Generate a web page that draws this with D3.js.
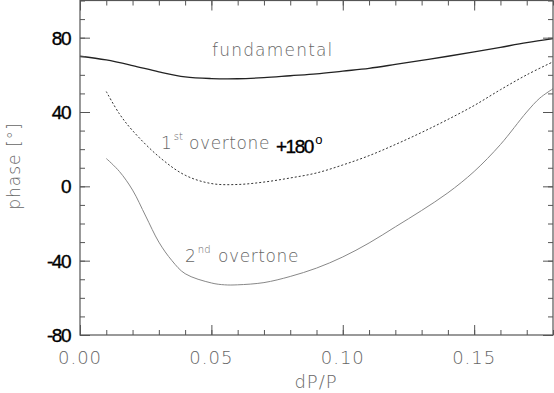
<!DOCTYPE html>
<html lang="en">
<head>
    <meta charset="UTF-8">
    <title>Phase vs dP/P</title>
    <script src="https://d3js.org/d3.v7.min.js"></script>
    <style>
        body { margin: 0; background: #fff; }
        .thin { font-family: "DejaVu Sans", sans-serif; font-weight: 200; fill: #666; }
        .bold { font-family: "Liberation Sans", Arial, sans-serif; fill: #000; stroke: #000; stroke-width: 0.35; }
    </style>
</head>
<body>
    <svg width="554" height="393"></svg>
    <script>
        // values
        const fundX = [0.00, 0.01, 0.02, 0.03, 0.04, 0.05, 0.06, 0.07, 0.08, 0.09, 0.10, 0.11, 0.12, 0.13, 0.14, 0.15, 0.16, 0.17, 0.18];
        const fundY = [70, 68, 65, 61.6, 58.9, 58.0, 57.9, 58.5, 59.5, 60.5, 62, 63.5, 65.6, 67.8, 70, 72.3, 74.8, 77.3, 79.5];

        const ov1X = [0.01, 0.015, 0.02, 0.03, 0.04, 0.05, 0.06, 0.07, 0.08, 0.09, 0.10, 0.11, 0.12, 0.13, 0.14, 0.15, 0.16, 0.17, 0.18];
        const ov1Y = [51, 39, 30, 16, 6, 1.5, 1.0, 2.3, 4.5, 7.2, 11.5, 16.5, 22.5, 29, 36, 43.5, 52, 60, 67];

        const ov2X = [0.01, 0.015, 0.02, 0.025, 0.03, 0.035, 0.04, 0.05, 0.055, 0.06, 0.07, 0.08, 0.09, 0.10, 0.11, 0.12, 0.13, 0.14, 0.15, 0.16, 0.17, 0.175, 0.18];
        const ov2Y = [15, 8, -2, -16, -30, -40, -47, -52, -53, -53, -51.8, -48.5, -44, -38, -30.5, -21.8, -13, -3.5, 8, 22.5, 40, 47.5, 52.5];

        const xTicks = [0.00, 0.05, 0.10, 0.15];
        const yTicks = [-80, -40, 0, 40, 80];

        const svg = d3.select("svg");
        const pl = 80, pr = 553, pt = 0.5, pb = 335;

        const x = d3.scaleLinear().domain([0, 0.18]).range([pl, pr]);
        const y = d3.scaleLinear().domain([-80, 100]).range([pb, pt]);

        const line = d3.line()
            .x(d => x(d[0]))
            .y(d => y(d[1]))
            .curve(d3.curveCatmullRom);

        svg.append("path")
           .datum(d3.zip(fundX, fundY))
           .attr("d", line)
           .attr("fill", "none")
           .attr("stroke", "#222")
           .attr("stroke-width", 1.3);

        svg.append("path")
           .datum(d3.zip(ov1X, ov1Y))
           .attr("d", line)
           .attr("fill", "none")
           .attr("stroke", "#333")
           .attr("stroke-width", 1)
           .attr("stroke-dasharray", "2,2");

        svg.append("path")
           .datum(d3.zip(ov2X, ov2Y))
           .attr("d", line)
           .attr("fill", "none")
           .attr("stroke", "#888")
           .attr("stroke-width", 1);

        // axes with inward ticks on all four sides
        const axisColor = "#555";
        function styleAxis(g) {
            g.select(".domain").remove();
            g.selectAll("line").attr("stroke", axisColor);
            g.selectAll("text").remove();
        }
        const minorX = d3.range(0, 0.181, 0.01);
        const minorY = d3.range(-80, 101, 10);

        svg.append("g").attr("transform", `translate(0,${pb})`)
           .call(d3.axisTop(x).tickValues(minorX).tickSize(5)).call(styleAxis);
        svg.append("g").attr("transform", `translate(0,${pb})`)
           .call(d3.axisTop(x).tickValues(xTicks).tickSize(10)).call(styleAxis);
        svg.append("g").attr("transform", `translate(0,${pt})`)
           .call(d3.axisBottom(x).tickValues(minorX).tickSize(5)).call(styleAxis);
        svg.append("g").attr("transform", `translate(0,${pt})`)
           .call(d3.axisBottom(x).tickValues(xTicks).tickSize(10)).call(styleAxis);
        svg.append("g").attr("transform", `translate(${pl},0)`)
           .call(d3.axisRight(y).tickValues(minorY).tickSize(5)).call(styleAxis);
        svg.append("g").attr("transform", `translate(${pl},0)`)
           .call(d3.axisRight(y).tickValues(yTicks).tickSize(10)).call(styleAxis);
        svg.append("g").attr("transform", `translate(${pr},0)`)
           .call(d3.axisLeft(y).tickValues(minorY).tickSize(5)).call(styleAxis);
        svg.append("g").attr("transform", `translate(${pr},0)`)
           .call(d3.axisLeft(y).tickValues(yTicks).tickSize(10)).call(styleAxis);

        svg.append("rect")
           .attr("x", pl).attr("y", pt)
           .attr("width", pr - pl).attr("height", pb - pt)
           .attr("fill", "none").attr("stroke", axisColor).attr("stroke-width", 1.2);

        // tick labels
        svg.selectAll(".xl").data(xTicks).enter().append("text")
           .attr("class", "thin")
           .attr("x", d => x(d)).attr("y", 364)
           .attr("text-anchor", "middle")
           .attr("font-size", 18)
           .attr("letter-spacing", 1)
           .text(d => d.toFixed(2));

        svg.selectAll(".yl").data(yTicks).enter().append("text")
           .attr("class", "bold")
           .attr("x", 70).attr("y", d => y(d) + 7)
           .attr("text-anchor", "end")
           .attr("font-size", 19)
           .attr("letter-spacing", -1.5)
           .text(d => d);

        // axis titles
        svg.append("text").attr("class", "thin")
           .attr("x", 316).attr("y", 388)
           .attr("text-anchor", "middle").attr("font-size", 18)
           .attr("letter-spacing", 1)
           .text("dP/P");

        svg.append("text").attr("class", "thin")
           .attr("transform", "translate(20,166) rotate(-90)")
           .attr("text-anchor", "middle").attr("font-size", 17)
           .attr("letter-spacing", 1)
           .text("phase [°]");

        // curve labels
        svg.append("text").attr("class", "thin")
           .attr("x", 212).attr("y", 56).attr("font-size", 17)
           .attr("letter-spacing", 1.2)
           .text("fundamental");

        const l1 = svg.append("text").attr("class", "thin")
           .attr("x", 161).attr("y", 149).attr("font-size", 17);
        l1.append("tspan").text("1");
        l1.append("tspan").attr("font-size", 10).attr("dy", -9).attr("dx", 2).text("st");
        l1.append("tspan").attr("dy", 9).attr("x", 189).attr("letter-spacing", 0.6).text("overtone");
        const l1b = svg.append("text").attr("class", "bold")
           .attr("x", 276).attr("y", 153).attr("font-size", 19)
           .attr("letter-spacing", -1.5);
        l1b.append("tspan").text("+180");
        l1b.append("tspan").attr("font-size", 13).attr("stroke-width", 0)
           .attr("dy", -9).attr("dx", 2.5).text("o");

        const l2 = svg.append("text").attr("class", "thin")
           .attr("x", 185).attr("y", 262).attr("font-size", 17);
        l2.append("tspan").text("2");
        l2.append("tspan").attr("font-size", 10).attr("dy", -9).attr("dx", 2).text("nd");
        l2.append("tspan").attr("dy", 9).attr("x", 218).attr("letter-spacing", 0.6).text("overtone");
    </script>
</body>
</html>
